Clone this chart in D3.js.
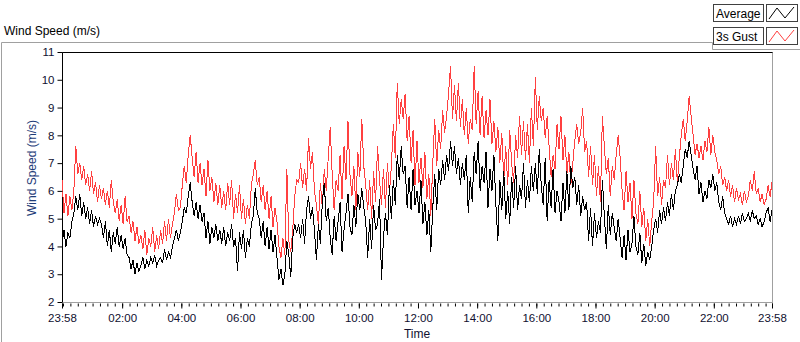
<!DOCTYPE html>
<html>
<head>
<meta charset="utf-8">
<script src="https://cdn.jsdelivr.net/npm/d3@7"></script>
<style>
  body { margin: 0; background: #fff; }
  text { font-family: "Liberation Sans", Arial, sans-serif; }
</style>
</head>
<body>
<svg id="chart" width="800" height="342"></svg>
<script>
// one reading every 4 minutes, starting 23:58
var sampleMinutes = 4;

var gustSpeed = [
  6.4, 5.2, 5.9, 5.1, 5.8, 5.3, 6.0, 7.6, 6.6, 7.0, 6.4, 6.9, 6.2, 6.6, 6.0, 6.7, 5.9, 6.3, 5.6, 6.2,
  5.7, 6.1, 5.5, 6.0, 5.4, 6.4, 5.6, 5.2, 5.7, 4.9, 5.5, 4.8, 5.8, 4.9, 5.1, 4.5, 4.9, 4.2, 4.7, 4.1,
  4.4, 3.9, 4.6, 3.7, 4.3, 4.0, 4.7, 3.8, 4.4, 3.9, 4.6, 4.1, 4.9, 4.2, 5.0, 4.3, 4.8, 5.2, 5.9, 5.3,
  5.4, 6.2, 6.9, 6.3, 7.3, 8.0, 7.2, 6.5, 7.4, 6.3, 7.0, 6.2, 6.8, 5.8, 7.1, 6.0, 6.5, 5.6, 6.3, 5.5,
  6.2, 5.4, 6.0, 5.3, 6.3, 5.5, 6.4, 5.0, 5.9, 5.2, 6.2, 5.0, 5.7, 4.8, 5.5, 5.0, 6.2, 6.6, 7.1, 6.2,
  6.5, 5.6, 6.2, 5.3, 6.0, 5.0, 5.8, 4.7, 5.4, 4.9, 4.0, 3.6, 4.3, 3.7, 6.8, 4.2, 3.8, 4.6, 5.8, 6.4,
  6.3, 7.0, 6.1, 6.8, 6.0, 7.9, 6.8, 7.4, 6.0, 5.5, 4.8, 6.3, 5.4, 6.8, 6.0, 7.2, 8.3, 6.6, 5.3, 6.4,
  6.0, 7.3, 5.7, 7.6, 6.4, 8.5, 6.6, 5.8, 6.9, 5.3, 7.4, 6.5, 8.6, 6.9, 6.2, 5.3, 6.4, 5.0, 6.7, 5.6,
  7.6, 6.4, 5.5, 6.8, 5.4, 7.0, 5.9, 6.9, 8.4, 7.2, 9.9, 8.4, 9.3, 8.6, 9.5, 7.8, 8.7, 7.0, 8.2, 6.2,
  7.8, 6.3, 7.2, 6.1, 7.4, 5.7, 6.6, 5.1, 7.0, 8.6, 6.9, 8.2, 7.5, 8.9, 8.1, 8.7, 9.5, 10.5, 8.6, 9.8,
  8.5, 9.9, 8.3, 9.3, 8.0, 9.0, 7.7, 8.6, 8.2, 10.5, 8.4, 9.6, 8.0, 9.4, 7.9, 8.9, 8.0, 9.3, 7.7, 8.5,
  7.4, 8.3, 7.0, 8.1, 6.4, 7.6, 6.2, 8.2, 7.0, 6.3, 8.0, 7.2, 8.7, 7.3, 8.5, 7.1, 8.4, 7.0, 9.0, 7.6,
  10.1, 8.2, 9.4, 8.5, 9.0, 7.9, 8.7, 7.6, 6.5, 7.3, 6.8, 8.4, 7.5, 8.7, 7.1, 8.0, 6.6, 7.4, 6.2, 7.0,
  7.8, 8.4, 7.7, 8.1, 9.0, 7.4, 7.8, 6.5, 7.6, 6.2, 7.3, 5.8, 6.9, 5.6, 8.7, 7.6, 6.6, 7.2, 5.8, 6.9,
  6.4, 7.3, 8.0, 7.2, 6.0, 5.3, 6.7, 5.6, 6.3, 5.0, 6.4, 5.2, 4.8, 6.0, 4.7, 5.4, 4.2, 5.0, 4.0, 4.9,
  5.6, 7.6, 5.8, 6.5, 5.5, 6.4, 6.1, 7.3, 6.2, 7.0, 6.4, 7.5, 6.3, 7.2, 8.0, 8.6, 7.8, 8.5, 9.4, 8.7,
  8.0, 7.3, 7.7, 7.2, 7.6, 7.1, 7.8, 7.4, 8.3, 7.3, 8.0, 7.4, 7.1, 6.6, 6.9, 6.2, 6.5, 6.0, 6.4, 5.8,
  6.2, 5.6, 6.1, 5.7, 5.9, 5.5, 6.0, 5.6, 5.8, 6.4, 6.0, 6.7, 5.9, 6.1, 5.6, 5.9, 5.5, 5.7, 6.2, 5.8, 6.3
];

var avgSpeed = [
  4.1, 4.6, 4.0, 4.5, 4.3, 4.9, 5.2, 5.8, 5.3, 5.9, 5.1, 5.6, 5.0, 5.4, 4.8, 5.3, 4.7, 5.1, 4.8, 5.0,
  4.8, 4.3, 4.9, 4.0, 4.6, 3.8, 4.5, 4.1, 4.7, 4.0, 4.4, 3.9, 4.3, 3.7, 3.6, 3.2, 3.5, 3.0, 3.4, 3.1,
  3.3, 3.6, 3.2, 3.5, 3.3, 3.6, 3.4, 3.7, 3.3, 3.5, 3.6, 3.4, 3.9, 3.5, 3.8, 3.6, 4.0, 4.3, 4.6, 4.2,
  4.5, 4.9, 5.4, 5.2, 5.8, 6.3, 5.6, 5.1, 5.6, 5.0, 5.5, 4.9, 5.2, 4.3, 4.9, 4.1, 4.7, 4.3, 4.8, 4.2,
  4.6, 4.1, 4.7, 4.0, 4.5, 4.2, 4.8, 4.0, 4.3, 3.1, 4.5, 3.9, 4.6, 3.6, 4.3, 4.0, 4.8, 5.1, 6.1, 5.2,
  5.0, 4.3, 4.9, 4.0, 4.7, 3.9, 4.6, 3.8, 4.4, 3.6, 2.8, 3.2, 2.6, 3.0, 4.2, 3.7, 2.9, 4.3, 4.8, 4.5,
  4.8, 4.3, 5.0, 4.1, 5.3, 5.8, 5.0, 5.4, 4.6, 3.5, 4.8, 4.1, 5.6, 6.3, 4.9, 5.4, 4.3, 3.7, 5.1, 4.2,
  4.9, 5.6, 3.8, 4.6, 5.2, 5.9, 4.7, 4.4, 5.5, 4.7, 5.9, 5.3, 6.1, 5.4, 4.9, 3.6, 5.0, 3.9, 5.5, 4.6,
  4.8, 5.7, 2.8, 4.3, 5.2, 4.4, 6.2, 5.0, 6.4, 5.5, 7.3, 6.4, 7.6, 6.6, 6.9, 5.4, 6.5, 5.3, 6.8, 5.5,
  6.0, 5.2, 6.4, 4.8, 5.6, 4.4, 5.3, 3.8, 5.4, 6.6, 5.3, 6.8, 6.2, 7.1, 6.4, 7.3, 6.7, 7.8, 6.9, 7.6,
  6.6, 7.2, 6.2, 7.0, 6.4, 7.3, 5.2, 6.5, 5.6, 7.4, 6.6, 7.8, 6.0, 6.9, 6.3, 7.4, 5.4, 6.8, 6.0, 7.3,
  5.5, 4.2, 6.4, 5.3, 6.7, 5.0, 6.0, 4.8, 6.5, 5.4, 6.9, 5.3, 6.2, 5.7, 7.0, 5.4, 6.4, 5.6, 6.9, 6.0,
  7.0, 5.9, 7.5, 6.2, 5.5, 7.2, 4.9, 6.4, 5.4, 6.8, 5.2, 6.0, 5.6, 4.9, 6.3, 5.2, 6.7, 5.3, 6.9, 6.1,
  6.5, 5.5, 6.2, 5.1, 5.8, 5.3, 5.6, 4.2, 5.4, 4.0, 5.2, 4.3, 4.9, 4.5, 6.4, 5.1, 3.9, 5.5, 4.4, 5.2,
  4.7, 4.2, 5.0, 4.3, 3.6, 4.4, 3.5, 4.6, 3.8, 4.1, 5.1, 4.0, 3.7, 4.5, 3.4, 4.1, 3.3, 3.8, 3.5, 4.0,
  4.6, 5.0, 4.5, 5.3, 4.8, 5.4, 4.9, 5.6, 5.1, 5.9, 5.3, 6.0, 6.2, 6.6, 6.3, 6.9, 7.5, 7.2, 7.8, 7.3,
  6.8, 6.4, 6.9, 5.9, 6.3, 5.6, 6.0, 5.7, 6.4, 6.1, 6.6, 6.0, 6.3, 5.6, 5.3, 5.8, 5.2, 5.0, 4.8, 5.1,
  4.7, 5.0, 4.8, 5.1, 4.8, 5.2, 4.9, 5.0, 5.2, 4.9, 5.3, 5.0, 5.1, 4.8, 5.0, 4.7, 4.9, 5.2, 5.4, 4.9, 5.3
];

var yTicks = [2, 3, 4, 5, 6, 7, 8, 9, 10, 11];
var seriesNames = ["Average", "3s Gust"];
var seriesColours = ["#000000", "#ff4040"];

var svg = d3.select("#chart");
var plotLeft = 62, plotRight = 772, plotTop = 52, plotBottom = 302;

var start = new Date(2000, 0, 1, 23, 58);
var end = d3.timeMinute.offset(start, 1440);
function timeAt(i) { return d3.timeMinute.offset(start, i * sampleMinutes); }

var x = d3.scaleTime().domain([start, end]).range([plotLeft, plotRight]);
var y = d3.scaleLinear().domain([2, 11]).range([plotBottom, plotTop]);

// outer panel frame (grey)
svg.append("path")
  .attr("d", "M1.5,342 V42.5 H712.5 V49.5 H800")
  .attr("fill", "none")
  .attr("stroke", "#a0a0a0");

// chart title
svg.append("text")
  .attr("x", 4).attr("y", 35)
  .style("font-size", "12px")
  .style("fill", "#000")
  .text("Wind Speed (m/s)");

// plot frame
svg.append("rect")
  .attr("x", plotLeft + 0.5).attr("y", plotTop + 0.5)
  .attr("width", plotRight - plotLeft).attr("height", plotBottom - plotTop)
  .attr("fill", "#fff").attr("stroke", "#a0a0a0");
svg.append("path")
  .attr("d", "M" + (plotLeft + 0.5) + "," + plotBottom + " V" + (plotTop + 0.5) + " H" + (plotRight + 0.5))
  .attr("fill", "none").attr("stroke", "#000");

// series lines
var line = d3.line()
  .x(function(d, i) { return x(timeAt(i)); })
  .y(function(d) { return y(d); });

svg.append("path")
  .datum(gustSpeed)
  .attr("d", line)
  .attr("fill", "none")
  .attr("stroke", seriesColours[1])
  .attr("stroke-width", 1)
  .style("shape-rendering", "crispEdges");

svg.append("path")
  .datum(avgSpeed)
  .attr("d", line)
  .attr("fill", "none")
  .attr("stroke", seriesColours[0])
  .attr("stroke-width", 1)
  .style("shape-rendering", "crispEdges");

// y axis
var yAxis = svg.append("g")
  .attr("transform", "translate(" + (plotLeft + 0.5) + ",0)")
  .call(d3.axisLeft(y).tickValues(yTicks).tickSize(5).tickPadding(3).tickSizeOuter(0));
yAxis.select(".domain").remove();
yAxis.selectAll("line").attr("stroke", "#000");
yAxis.selectAll("text")
  .style("font-size", "11.5px")
  .style("font-family", "Liberation Sans, Arial, sans-serif")
  .attr("fill", "#101030");

// x axis: minor ticks every 15 min, major every 2 h plus both ends
var minorTicks = [start].concat(d3.timeMinute.every(15).range(start, end)).concat([end]);
var majorTicks = [start].concat(d3.timeHour.every(2).range(d3.timeMinute.offset(start, 60), d3.timeMinute.offset(end, -60))).concat([end]);

var xMinor = svg.append("g")
  .attr("transform", "translate(0," + (plotBottom + 1.5) + ")")
  .call(d3.axisBottom(x).tickValues(minorTicks).tickSize(3).tickFormat(""));
xMinor.select(".domain").remove();
xMinor.selectAll("line").attr("stroke", "#000");

var xMajor = svg.append("g")
  .attr("transform", "translate(0," + (plotBottom + 1.5) + ")")
  .call(d3.axisBottom(x).tickValues(majorTicks).tickSize(5).tickPadding(5)
    .tickFormat(d3.timeFormat("%H:%M")));
xMajor.select(".domain").remove();
xMajor.selectAll("line").attr("stroke", "#000");
xMajor.selectAll("text")
  .style("font-size", "11.5px")
  .style("font-family", "Liberation Sans, Arial, sans-serif")
  .attr("fill", "#101030");

// axis titles
svg.append("text")
  .attr("x", (plotLeft + plotRight) / 2).attr("y", 338)
  .attr("text-anchor", "middle")
  .style("font-size", "12px")
  .style("fill", "#101030")
  .text("Time");

svg.append("text")
  .attr("transform", "translate(36,168) rotate(-90)")
  .attr("text-anchor", "middle")
  .style("font-size", "12px")
  .style("fill", "#1e3c78")
  .text("Wind Speed (m/s)");

// legend
var legend = svg.selectAll(".legend")
  .data(seriesNames)
  .enter().append("g")
  .attr("class", "legend")
  .attr("transform", function(d, i) { return "translate(0," + (i * 23) + ")"; });

legend.append("rect")
  .attr("x", 713.5).attr("y", 4.5).attr("width", 50).attr("height", 17)
  .attr("fill", "#fff").attr("stroke", "#404040");
legend.append("text")
  .attr("x", 716).attr("y", 18)
  .style("font-size", "12px")
  .style("fill", "#000")
  .text(function(d) { return d; });
legend.append("rect")
  .attr("x", 766.5).attr("y", 4.5).attr("width", 31).attr("height", 17)
  .attr("fill", "#fff").attr("stroke", "#404040");
legend.append("path")
  .attr("d", "M769,19 L777,8 L785,18 L794,7")
  .attr("fill", "none")
  .attr("stroke", function(d, i) { return seriesColours[i]; });
</script>
</body>
</html>
